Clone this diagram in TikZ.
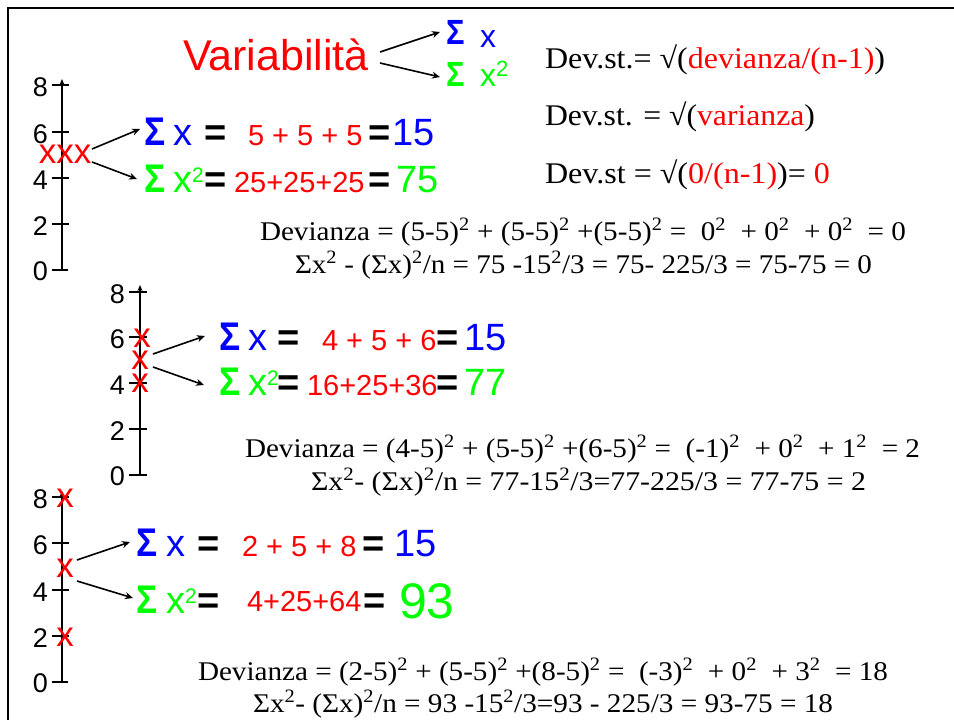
\documentclass[tikz,border=0pt]{standalone}
\usepackage{fontspec}
\usepackage{graphicx}
\setmainfont{Liberation Serif}
\setsansfont{Liberation Sans}
\usetikzlibrary{arrows.meta}
\definecolor{sred}{RGB}{255,0,0}
\definecolor{sblue}{RGB}{0,0,255}
\definecolor{sgreen}{RGB}{0,255,0}
\newcommand\rt[1]{\textcolor{sred}{#1}}
\newcommand\sq[1]{\raisebox{10pt}{\fontsize{21}{21}\selectfont #1}}
\newcommand\Sig{\scalebox{0.88}[1]{Σ}}
\begin{document}
\begin{tikzpicture}[x=1pt,y=-1pt,
  t/.style={anchor=base west,inner sep=0pt,outer sep=0pt},
  sig/.style={t,font=\sffamily\bfseries\fontsize{40}{40}\selectfont},
  big/.style={t,font=\sffamily\fontsize{38}{38}\selectfont},
  eqs/.style={t,font=\sffamily\bfseries\fontsize{38}{38}\selectfont},
  num/.style={t,text=sred,font=\sffamily\fontsize{29}{29}\selectfont},
  ser/.style={t,font=\fontsize{27}{27}\selectfont},
  dev/.style={t,font=\fontsize{30}{30}\selectfont},
  lab/.style={anchor=east,inner sep=0pt,font=\sffamily\fontsize{27}{27}\selectfont},
  mk/.style={inner sep=0pt,text=sred,font=\sffamily\fontsize{35}{35}\selectfont},
  arr/.style={line width=1.6pt,-{Stealth[length=8pt,width=7pt]}},
  ax/.style={line width=2pt},
  axa/.style={line width=2pt,-{Stealth[length=6pt,width=5pt]}}
]
\useasboundingbox (0,0) rectangle (954,720);
% frame
\draw[line width=2.5pt] (8,720) -- (8,8) -- (954,8);

% ---------- title ----------
\node[t,text=sred,font=\sffamily\fontsize{43}{43}\selectfont] (var) at (183,70) {Variabilità};
\node[t,text=sblue,font=\sffamily\bfseries\fontsize{35}{35}\selectfont] (tsx) at (446,45) {\Sig};
\node[t,text=sblue,font=\sffamily\fontsize{32}{32}\selectfont] (tx) at (480,47) {x};
\node[t,text=sgreen,font=\sffamily\bfseries\fontsize{35}{35}\selectfont] (tsx2) at (446,86) {\Sig};
\node[t,text=sgreen,font=\sffamily\fontsize{32}{32}\selectfont] (tx2) at (480,86) {x\raisebox{10pt}{\fontsize{22}{22}\selectfont 2}};
\coordinate (va1) at (380,52); \coordinate (vb1) at (440,32);
\coordinate (va2) at (380,63); \coordinate (vb2) at (440,77);
\draw[arr] (va1) -- (vb1);
\draw[arr] (va2) -- (vb2);

% ---------- Dev.st lines ----------
\node[dev] (ds1) at (545,68) {\resizebox{340pt}{\height}{Dev.st.= √(\rt{devianza/(n-1)})}};
\node[dev] (ds2) at (545,125) {\resizebox{270pt}{\height}{Dev.st. = √(\rt{varianza})}};
\node[dev] (ds3) at (545,183) {\resizebox{285pt}{\height}{Dev.st = √(\rt{0/(n-1)})= \rt{0}}};

% ---------- block 1 ----------
\draw[axa] (62,270) -- (62,79);
\foreach \yy in {85,132,178,224} \draw[ax] (52,\yy) -- (69,\yy);
\draw[ax] (52,270) -- (68,270);
\node[lab] (a8) at (48,87) {8};
\node[lab] (a6) at (48,134) {6};
\node[lab] (a4) at (48,180) {4};
\node[lab] (a2) at (48,226) {2};
\node[lab] (a0) at (48,271) {0};
\node[mk,anchor=base] (xxx) at (65,163) {xxx};
\coordinate (p1s) at (92,149); \coordinate (p1e) at (140,129);
\coordinate (p2s) at (92,162); \coordinate (p2e) at (137,179);
\draw[arr] (p1s) -- (p1e);
\draw[arr] (p2s) -- (p2e);
\node[sig,text=sblue] (b1s) at (144,145) {\Sig};
\node[big,text=sblue] (b1x) at (173,145) {x};
\node[eqs] (b1e1) at (204,145) {=};
\node[num] (b1n) at (248,145) {5 + 5 + 5};
\node[eqs] (b1e2) at (368,145) {=};
\node[big,text=sblue] (b1r) at (392,145) {15};
\node[sig,text=sgreen] (b1s2) at (144,192) {\Sig};
\node[big,text=sgreen] (b1x2) at (173,192) {x\sq{2}};
\node[eqs] (b1f1) at (204,192) {=};
\node[num] (b1m) at (234,192) {25+25+25};
\node[eqs] (b1f2) at (368,192) {=};
\node[big,text=sgreen] (b1q) at (396,192) {75};
\node[ser] (b1d1) at (260,240) {\resizebox{646pt}{\height}{Devianza = (5-5)\textsuperscript{2} + (5-5)\textsuperscript{2} +(5-5)\textsuperscript{2} =\ \ 0\textsuperscript{2}\ \ + 0\textsuperscript{2}\ \ + 0\textsuperscript{2}\ \ = 0}};
\node[ser] (b1d2) at (295,273) {\resizebox{577pt}{\height}{Σx\textsuperscript{2} - (Σx)\textsuperscript{2}/n = 75 -15\textsuperscript{2}/3 = 75- 225/3 = 75-75 = 0}};

% ---------- block 2 ----------
\draw[axa] (140,475) -- (140,285);
\foreach \yy in {292,337,383,429} \draw[ax] (129,\yy) -- (147,\yy);
\draw[ax] (129,475) -- (147,475);
\node[lab] (c8) at (125,294) {8};
\node[lab] (c6) at (125,339) {6};
\node[lab] (c4) at (125,385) {4};
\node[lab] (c2) at (125,431) {2};
\node[lab] (c0) at (125,476) {0};
\node[mk] (m26) at (142,338) {x};
\node[mk] (m25) at (140,360) {x};
\node[mk] (m24) at (140,383) {x};
\coordinate (q1s) at (153,354); \coordinate (q1e) at (205,336);
\coordinate (q2s) at (153,367); \coordinate (q2e) at (204,385);
\draw[arr] (q1s) -- (q1e);
\draw[arr] (q2s) -- (q2e);
\node[sig,text=sblue] (b2s) at (219,350) {\Sig};
\node[big,text=sblue] (b2x) at (248,350) {x};
\node[eqs] (b2e1) at (277,350) {=};
\node[num] (b2n) at (322,350) {4 + 5 + 6};
\node[eqs] (b2e2) at (436,350) {=};
\node[big,text=sblue] (b2r) at (464,350) {15};
\node[sig,text=sgreen] (b2s2) at (219,395) {\Sig};
\node[big,text=sgreen] (b2x2) at (248,395) {x\sq{2}};
\node[eqs] (b2f1) at (277,395) {=};
\node[num] (b2m) at (307,395) {16+25+36};
\node[eqs] (b2f2) at (436,395) {=};
\node[big,text=sgreen] (b2q) at (464,395) {77};
\node[ser] (b2d1) at (245,457) {\resizebox{675pt}{\height}{Devianza = (4-5)\textsuperscript{2} + (5-5)\textsuperscript{2} +(6-5)\textsuperscript{2} =\ \ (-1)\textsuperscript{2}\ \ + 0\textsuperscript{2}\ \ + 1\textsuperscript{2}\ \ = 2}};
\node[ser] (b2d2) at (311,490) {\resizebox{555pt}{\height}{Σx\textsuperscript{2}- (Σx)\textsuperscript{2}/n = 77-15\textsuperscript{2}/3=77-225/3 = 77-75 = 2}};

% ---------- block 3 ----------
\draw[axa] (62,682) -- (62,491);
\foreach \yy in {497,543,590,636} \draw[ax] (52,\yy) -- (69,\yy);
\draw[ax] (52,682) -- (68,682);
\node[lab] (e8) at (48,499) {8};
\node[lab] (e6) at (48,545) {6};
\node[lab] (e4) at (48,592) {4};
\node[lab] (e2) at (48,638) {2};
\node[lab] (e0) at (48,683) {0};
\node[mk] (m38) at (65,498) {x};
\node[mk] (m35) at (65,568) {x};
\node[mk] (m32) at (65,637) {x};
\coordinate (r1s) at (77,560); \coordinate (r1e) at (130,542);
\coordinate (r2s) at (77,581); \coordinate (r2e) at (133,598);
\draw[arr] (r1s) -- (r1e);
\draw[arr] (r2s) -- (r2e);
\node[sig,text=sblue] (b3s) at (136,556) {\Sig};
\node[big,text=sblue] (b3x) at (166,556) {x};
\node[eqs] (b3e1) at (197,556) {=};
\node[num] (b3n) at (242,556) {2 + 5 + 8};
\node[eqs] (b3e2) at (362,556) {=};
\node[big,text=sblue] (b3r) at (394,556) {15};
\node[sig,text=sgreen] (b3s2) at (136,613) {\Sig};
\node[big,text=sgreen] (b3x2) at (166,613) {x\sq{2}};
\node[eqs] (b3f1) at (197,613) {=};
\node[num] (b3m) at (247,611) {4+25+64};
\node[eqs] (b3f2) at (363,613) {=};
\node[t,text=sgreen,font=\sffamily\fontsize{50}{50}\selectfont] (b3q) at (399,618) {93};
\node[ser] (b3d1) at (198,680) {\resizebox{690pt}{\height}{Devianza = (2-5)\textsuperscript{2} + (5-5)\textsuperscript{2} +(8-5)\textsuperscript{2} =\ \ (-3)\textsuperscript{2}\ \ + 0\textsuperscript{2}\ \ + 3\textsuperscript{2}\ \ = 18}};
\node[ser] (b3d2) at (253,712) {\resizebox{580pt}{\height}{Σx\textsuperscript{2}- (Σx)\textsuperscript{2}/n = 93 -15\textsuperscript{2}/3=93 - 225/3 = 93-75 = 18}};
\end{tikzpicture}
\end{document}
